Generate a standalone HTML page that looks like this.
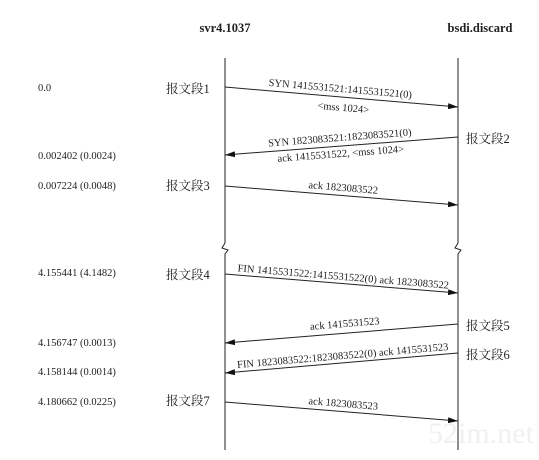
<!DOCTYPE html>
<html><head><meta charset="utf-8"><style>
html,body{margin:0;padding:0;background:#fff;}
svg{display:block;}
text{font-family:"Liberation Serif","Noto Serif CJK SC",serif;fill:#222;}
.t{font-size:10.5px;}
.c{font-size:12.5px;fill:#444;font-family:"Liberation Serif","Noto Serif CJK SC",serif;}
.m{font-size:10.5px;}
</style></head><body>
<svg width="539" height="460" viewBox="0 0 539 460">
<defs><marker id="a" markerWidth="10" markerHeight="6" refX="10" refY="3" orient="auto" markerUnits="userSpaceOnUse"><path d="M0,0 L10,3 L0,6 Z" fill="#111"/></marker></defs>
<text x="225" y="32" text-anchor="middle" font-weight="bold" font-size="12.5">svr4.1037</text>
<text x="480" y="32" text-anchor="middle" font-weight="bold" font-size="12.5">bsdi.discard</text>
<g stroke="#222" stroke-width="1" fill="none">
<path d="M225,58 V243 L222,248 L228,250 L225,254 V450"/>
<path d="M458,58 V243 L455,248 L461,250 L458,254 V450"/>
<line x1="225" y1="87" x2="458" y2="107" marker-end="url(#a)"/>
<line x1="458" y1="137" x2="225" y2="155" marker-end="url(#a)"/>
<line x1="225" y1="186" x2="458" y2="205" marker-end="url(#a)"/>
<line x1="225" y1="274" x2="458" y2="293" marker-end="url(#a)"/>
<line x1="458" y1="324" x2="225" y2="343" marker-end="url(#a)"/>
<line x1="458" y1="353" x2="225" y2="373" marker-end="url(#a)"/>
<line x1="225" y1="402" x2="458" y2="421" marker-end="url(#a)"/>
</g>
<g class="t">
<text x="38" y="91">0.0</text>
<text x="38" y="159">0.002402 (0.0024)</text>
<text x="38" y="189">0.007224 (0.0048)</text>
<text x="38" y="276">4.155441 (4.1482)</text>
<text x="38" y="346">4.156747 (0.0013)</text>
<text x="38" y="375">4.158144 (0.0014)</text>
<text x="38" y="405">4.180662 (0.0225)</text>
</g>
<g class="c">
<text x="166" y="93">报文段1</text>
<text x="466" y="143">报文段2</text>
<text x="166" y="190">报文段3</text>
<text x="166" y="279">报文段4</text>
<text x="466" y="330">报文段5</text>
<text x="466" y="359">报文段6</text>
<text x="166" y="405">报文段7</text>
</g>
<g class="m">
<text transform="translate(340,92) rotate(4.9)" text-anchor="middle">SYN  1415531521:1415531521(0)</text>
<text transform="translate(343,111) rotate(4.9)" text-anchor="middle">&lt;mss 1024&gt;</text>
<text transform="translate(340,141) rotate(-4.4)" text-anchor="middle">SYN  1823083521:1823083521(0)</text>
<text transform="translate(341,157) rotate(-4.4)" text-anchor="middle">ack 1415531522, &lt;mss 1024&gt;</text>
<text transform="translate(343,191) rotate(4.7)" text-anchor="middle">ack 1823083522</text>
<text transform="translate(343,280) rotate(4.7)" text-anchor="middle">FIN  1415531522:1415531522(0) ack 1823083522</text>
<text transform="translate(345,327) rotate(-4.7)" text-anchor="middle">ack 1415531523</text>
<text transform="translate(343,359) rotate(-4.9)" text-anchor="middle">FIN  1823083522:1823083522(0) ack 1415531523</text>
<text transform="translate(343,407) rotate(4.7)" text-anchor="middle">ack 1823083523</text>
</g>
<text x="428" y="443" font-family="Liberation Sans,sans-serif" font-size="30" style="fill:#f0f0f0">52im.net</text>
</svg>
</body></html>
